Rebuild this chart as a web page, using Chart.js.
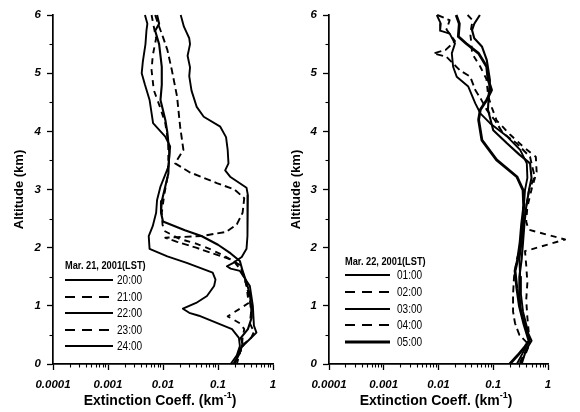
<!DOCTYPE html>
<html><head><meta charset="utf-8">
<script src="https://cdn.jsdelivr.net/npm/chart.js@4.4.0/dist/chart.umd.min.js"></script>
<style>
html,body{margin:0;padding:0;background:#fff;}
#wrap{position:relative;width:580px;height:412px;overflow:hidden;font-family:"Liberation Sans",Arial,sans-serif;color:#000;}
canvas{position:absolute;top:0;}
.xt{position:absolute;top:392px;font-weight:bold;font-size:14px;line-height:16px;white-space:nowrap;transform:translateX(-50%);}
.xt sup{font-size:9px;line-height:0;position:relative;top:-1px;vertical-align:super;}
.hd{position:absolute;font-weight:bold;font-size:11px;line-height:12px;white-space:nowrap;transform:scaleX(.84);transform-origin:0 50%;}
.lt{position:absolute;font-size:12px;line-height:14px;white-space:nowrap;transform:scaleX(.84);transform-origin:0 50%;}
svg{position:absolute;overflow:visible;}
</style></head>
<body><div id="wrap">
<canvas id="cL" width="285" height="412" style="left:0"></canvas>
<canvas id="cR" width="295" height="412" style="left:285px"></canvas>
<div class="xt" style="left:160px">Extinction Coeff. (km<sup>-1</sup>)</div>
<div class="xt" style="left:436px">Extinction Coeff. (km<sup>-1</sup>)</div>
</div>
<script>
// ---- tick values / labels ----
const xTickValues = [0.0001, 0.001, 0.01, 0.1, 1];
const xTickLabels = ['0.0001', '0.001', '0.01', '0.1', '1'];
const yTickValues = [0, 1, 2, 3, 4, 5, 6];
const yMinorValues = [0.5, 1.5, 2.5, 3.5, 4.5, 5.5];

// ---- Mar. 21, 2001 (LST) ----
const legendTitleL = 'Mar. 21, 2001(LST)';
const namesL = ['20:00', '21:00', '22:00', '23:00', '24:00'];
const alt20 = [6.0,5.8,5.6,5.5,5.3,5.1,4.95,4.7,4.42,4.25,4.08,3.9,3.68,3.45,3.33,3.22,3.03,2.9,2.72,2.43,2.2,1.98,1.84,1.74,1.68,1.64,1.6,1.34,1.0,0.66,0.54,0.43,0.26,0.12,0];
const ext20 = [0.021,0.024,0.03,0.031,0.028,0.031,0.03,0.033,0.041,0.055,0.11,0.14,0.15,0.155,0.135,0.166,0.33,0.35,0.34,0.35,0.34,0.33,0.27,0.19,0.145,0.17,0.25,0.38,0.43,0.45,0.5,0.38,0.25,0.22,0.2];
const alt21 = [6.0,5.8,5.62,5.4,5.05,4.6,4.08,3.68,3.45,3.3,3.11,3.0,2.85,2.6,2.4,2.27,2.2,2.17,2.1,2.0,1.9,1.8,1.7,1.5,1.3,1.1,0.9,0.7,0.55,0.45,0.35,0.2,0];
const ext21 = [0.0072,0.0085,0.01,0.012,0.0145,0.018,0.0205,0.0235,0.0166,0.03,0.095,0.2,0.3,0.28,0.22,0.14,0.05,0.011,0.018,0.04,0.08,0.17,0.25,0.3,0.34,0.38,0.4,0.38,0.45,0.4,0.3,0.25,0.19];
const alt22 = [6.0,5.85,5.73,5.5,5.11,4.8,4.54,4.2,3.98,3.64,3.27,3.05,2.8,2.6,2.45,2.3,2.2,2.05,1.9,1.77,1.6,1.4,1.2,1.0,0.8,0.6,0.45,0.35,0.2,0];
const ext22 = [0.0078,0.0085,0.0072,0.0085,0.0095,0.0095,0.009,0.011,0.012,0.013,0.0125,0.011,0.0095,0.0092,0.01,0.025,0.05,0.1,0.17,0.25,0.28,0.33,0.38,0.4,0.41,0.35,0.26,0.28,0.25,0.2];
const alt23 = [6.0,5.8,5.6,5.3,5.05,4.71,4.42,4.14,3.8,3.5,3.2,2.9,2.6,2.4,2.29,2.15,2.07,1.98,1.86,1.75,1.6,1.35,1.05,0.95,0.82,0.7,0.6,0.45,0.3,0];
const ext23 = [0.0062,0.0068,0.0075,0.0065,0.0062,0.0068,0.0088,0.011,0.0125,0.0125,0.012,0.0105,0.0095,0.0098,0.0105,0.02,0.04,0.07,0.13,0.2,0.27,0.33,0.36,0.25,0.15,0.25,0.3,0.28,0.27,0.22];
const alt24 = [6.0,5.85,5.73,5.5,5.2,5.0,4.8,4.54,4.14,3.91,3.74,3.55,3.39,3.05,2.82,2.6,2.37,2.2,1.98,1.85,1.74,1.57,1.45,1.34,1.17,1.05,0.95,0.88,0.83,0.6,0.45,0.31,0.15,0];
const ext24 = [0.0047,0.0052,0.005,0.0048,0.0043,0.0041,0.0047,0.0057,0.0066,0.011,0.0135,0.013,0.0125,0.009,0.0078,0.0075,0.0065,0.0055,0.0057,0.012,0.027,0.08,0.09,0.085,0.063,0.04,0.023,0.03,0.045,0.18,0.24,0.25,0.22,0.17];

// ---- Mar. 22, 2001 (LST) ----
const legendTitleR = 'Mar. 22, 2001(LST)';
const namesR = ['01:00', '02:00', '03:00', '04:00', '05:00'];
const alt01 = [6.0,5.85,5.73,5.68,5.51,5.34,5.11,4.94,4.77,4.48,4.31,4.14,3.91,3.68,3.45,3.2,2.99,2.7,2.4,2.1,1.8,1.5,1.2,0.9,0.6,0.4,0.2,0];
const ext01 = [0.0093,0.011,0.0107,0.016,0.02,0.0175,0.0185,0.0215,0.035,0.047,0.058,0.087,0.18,0.31,0.41,0.42,0.38,0.36,0.35,0.33,0.3,0.31,0.32,0.35,0.42,0.45,0.35,0.27];
const alt02 = [6.0,5.91,5.75,5.55,5.4,5.34,5.28,5.05,4.94,4.71,4.55,4.37,4.19,3.97,3.79,3.56,3.22,2.99,2.7,2.4,2.1,1.8,1.5,1.2,0.9,0.7,0.5,0.33,0.2,0];
const ext02 = [0.0095,0.016,0.014,0.02,0.0135,0.0081,0.014,0.0245,0.038,0.047,0.06,0.076,0.107,0.15,0.27,0.47,0.57,0.45,0.4,0.36,0.33,0.27,0.24,0.23,0.23,0.25,0.3,0.45,0.4,0.3];
const alt03 = [6.0,5.85,5.74,5.6,5.46,5.23,4.88,4.65,4.37,4.02,3.79,3.6,3.45,3.2,2.99,2.7,2.4,2.1,1.8,1.5,1.2,0.9,0.6,0.4,0.25,0];
const ext03 = [0.057,0.045,0.041,0.045,0.062,0.076,0.087,0.083,0.08,0.1,0.18,0.3,0.47,0.5,0.45,0.4,0.37,0.35,0.33,0.3,0.3,0.32,0.4,0.5,0.4,0.33];
const alt04 = [6.0,5.91,5.68,5.5,5.34,5.11,4.9,4.6,4.4,4.19,3.95,3.74,3.56,3.3,3.0,2.7,2.45,2.31,2.14,1.94,1.7,1.4,1.1,0.8,0.5,0.3,0.15,0];
const ext04 = [0.034,0.042,0.038,0.04,0.041,0.058,0.075,0.081,0.095,0.115,0.2,0.35,0.6,0.62,0.5,0.42,0.4,0.44,2.05,0.38,0.4,0.42,0.4,0.42,0.45,0.45,0.35,0.3];
const alt05 = [6.0,5.85,5.63,5.51,5.34,5.11,4.9,4.71,4.54,4.37,4.2,3.85,3.51,3.22,2.99,2.7,2.4,2.1,1.8,1.6,1.3,1.0,0.7,0.4,0.3,0.15,0];
const ext05 = [0.021,0.024,0.023,0.032,0.054,0.076,0.08,0.093,0.076,0.058,0.054,0.062,0.115,0.27,0.35,0.36,0.33,0.31,0.28,0.25,0.27,0.3,0.36,0.45,0.38,0.28,0.2];

// ---- styles (not data) ----
const stylesL = [
  {dash: [], w: 1.9}, {dash: [7, 4], w: 1.9}, {dash: [], w: 2.1}, {dash: [6, 5], w: 1.9}, {dash: [], w: 1.9}
];
const stylesR = [
  {dash: [], w: 1.9}, {dash: [7, 4], w: 1.9}, {dash: [], w: 2.1}, {dash: [6, 5], w: 1.9}, {dash: [], w: 2.8}
];

const FONT = '"Liberation Sans", Arial, sans-serif';

const minorTicks = {
  id: 'minorTicks',
  afterDraw(chart) {
    const {ctx, chartArea} = chart;
    const x = chart.scales.x, y = chart.scales.y;
    ctx.save();
    ctx.strokeStyle = '#000';
    ctx.lineWidth = 1.1;
    for (let i = 0; i < xTickValues.length - 1; i++) {
      for (let k = 2; k < 10; k++) {
        const px = Math.round(x.getPixelForValue(xTickValues[i] * k)) + 0.5;
        ctx.beginPath(); ctx.moveTo(px, chartArea.bottom); ctx.lineTo(px, chartArea.bottom + 3.5); ctx.stroke();
      }
    }
    yMinorValues.forEach(v => {
      const py = Math.round(y.getPixelForValue(v)) + 0.5;
      ctx.beginPath(); ctx.moveTo(chartArea.left - 3.5, py); ctx.lineTo(chartArea.left, py); ctx.stroke();
    });
    ctx.restore();
  }
};

function buildChart(id, alts, exts, names, styles, yWidth, padRight, titlePad) {
  const datasets = names.map((n, i) => ({
    label: n,
    data: alts[i].map((a, j) => ({x: exts[i][j], y: a})),
    showLine: true,
    pointRadius: 0,
    borderColor: '#000',
    borderWidth: styles[i].w,
    borderDash: styles[i].dash,
    borderJoinStyle: 'round',
    tension: 0,
    clip: false
  }));
  return new Chart(document.getElementById(id), {
    type: 'scatter',
    data: {datasets},
    plugins: [minorTicks],
    options: {
      responsive: false,
      animation: false,
      layout: {padding: {left: 0, right: padRight, top: 15, bottom: 0}},
      plugins: {legend: {display: false}, tooltip: {enabled: false}},
      scales: {
        x: {
          type: 'logarithmic', min: 0.0001, max: 1,
          afterBuildTicks: s => { s.ticks = xTickValues.map(v => ({value: v, major: true})); },
          afterFit: s => { s.height = 48; },
          ticks: {
            autoSkip: false, maxRotation: 0, color: '#000', padding: 8,
            font: {family: FONT, size: 11.5, weight: 'bold', style: 'italic'},
            callback: (v, i) => xTickLabels[i]
          },
          grid: {drawOnChartArea: false, tickLength: 6, tickColor: '#000', tickWidth: 1.3},
          border: {display: true, color: '#000', width: 1.7}
        },
        y: {
          type: 'linear', min: 0, max: 6,
          afterBuildTicks: s => { s.ticks = yTickValues.map(v => ({value: v})); },
          afterFit: s => { s.width = yWidth; },
          ticks: {
            color: '#000', padding: 6,
            font: {family: FONT, size: 11.5, weight: 'bold', style: 'italic'},
            callback: v => String(v)
          },
          grid: {drawOnChartArea: false, tickLength: 6, tickColor: '#000', tickWidth: 1.3},
          border: {display: true, color: '#000', width: 1.7},
          title: {display: true, text: 'Altitude (km)', color: '#000',
                  font: {family: FONT, size: 13, weight: 'bold'}, padding: {top: titlePad, bottom: 0}}
        }
      }
    }
  });
}

buildChart('cL', [alt20, alt21, alt22, alt23, alt24], [ext20, ext21, ext22, ext23, ext24], namesL, stylesL, 53, 12, 11.5);
buildChart('cR', [alt01, alt02, alt03, alt04, alt05], [ext01, ext02, ext03, ext04, ext05], namesR, stylesR, 44, 32, 3.2);

// ---- legends (HTML) ----
function buildLegend(title, names, styles, lx, hy, ry0, rstep, lineW, textX) {
  const wrap = document.getElementById('wrap');
  const h = document.createElement('div');
  h.className = 'hd'; h.textContent = title;
  h.style.left = lx + 'px'; h.style.top = (hy - 6) + 'px';
  wrap.appendChild(h);
  names.forEach((n, i) => {
    const cy = ry0 + i * rstep;
    const svg = document.createElementNS('http://www.w3.org/2000/svg', 'svg');
    svg.setAttribute('width', lineW); svg.setAttribute('height', 6);
    svg.style.left = lx + 'px'; svg.style.top = (cy - 3) + 'px';
    const ln = document.createElementNS('http://www.w3.org/2000/svg', 'line');
    ln.setAttribute('x1', 0); ln.setAttribute('x2', lineW); ln.setAttribute('y1', 3); ln.setAttribute('y2', 3);
    ln.setAttribute('stroke', '#000'); ln.setAttribute('stroke-width', styles[i].w);
    if (styles[i].dash.length) ln.setAttribute('stroke-dasharray', '10,7');
    svg.appendChild(ln); wrap.appendChild(svg);
    const t = document.createElement('div');
    t.className = 'lt'; t.textContent = n;
    t.style.left = textX + 'px'; t.style.top = (cy - 7) + 'px';
    wrap.appendChild(t);
  });
}
buildLegend(legendTitleL, namesL, stylesL, 65, 265, 280, 16.6, 48, 117);
buildLegend(legendTitleR, namesR, stylesR, 345, 261, 275.3, 16.7, 45, 397);
</script>
</body></html>
